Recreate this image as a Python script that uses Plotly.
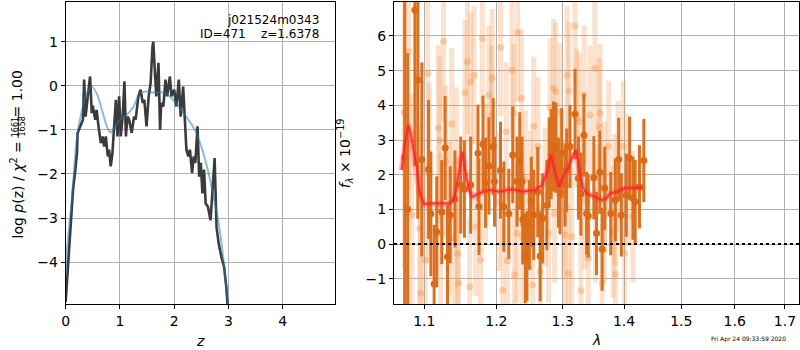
import plotly.graph_objects as go

# ---------------- data: left panel (redshift PDF) ----------------
z_grid = [0.0, 0.024, 0.055, 0.097, 0.135, 0.178, 0.208, 0.22, 0.27, 0.318, 0.34, 0.367, 0.40, 0.45, 0.48,
          0.50, 0.545, 0.57, 0.605, 0.648, 0.68, 0.71, 0.74, 0.776, 0.80, 0.83, 0.86, 0.89, 0.925, 0.955,
          0.985, 1.015, 1.05, 1.083, 1.11, 1.14, 1.17, 1.217, 1.26, 1.29, 1.34, 1.38, 1.42, 1.45, 1.49,
          1.53, 1.565, 1.60, 1.615, 1.645, 1.67, 1.71, 1.74, 1.76, 1.80, 1.84, 1.87, 1.92, 1.95, 2.0,
          2.04, 2.085, 2.12, 2.165, 2.195, 2.225, 2.26, 2.29, 2.33, 2.36, 2.39, 2.43, 2.46, 2.49, 2.52,
          2.55, 2.58, 2.62, 2.67, 2.70, 2.745, 2.78, 2.82, 2.87, 2.92, 2.96, 2.99, 3.02]
log_pz = [-4.9, -4.41, -3.73, -2.97, -2.36, -1.91, -1.52, -1.07, -0.92, -0.77, 0.14, -0.7, -0.32, 0.21, -0.62,
          -0.45, -0.77, -0.55, -0.92, -1.3, -1.15, -1.38, -1.15, -1.6, -1.45, -1.83, -1.55, -1.0, -0.32, -1.15,
          -0.24, -1.15, -0.7, 0.1, -1.15, -0.7, -0.77, -1.07, -0.7, -0.77, -0.24, -0.09, -0.39, -0.32, -0.92,
          -0.24, 0.06, 0.89, 1.0, 0.29, -0.24, 0.52, -1.0, -0.39, -0.47, 0.14, -0.24, 0.21, -0.24, -0.09,
          -0.47, 0.14, -0.7, -0.02, -0.92, -1.45, -1.6, -1.45, -1.98, -1.6, -1.75, -0.92, -2.06, -1.75, -2.44,
          -1.9, -2.67, -2.74, -3.05, -2.36, -1.64, -3.2, -3.58, -3.88, -4.11, -4.56, -4.98, -5.6]

z_smooth = [0.0, 0.025, 0.12, 0.21, 0.30, 0.39, 0.48, 0.57, 0.67, 0.76, 0.83, 0.90, 1.0, 1.125, 1.25, 1.37,
            1.49, 1.60, 1.77, 1.88, 2.01, 2.13, 2.26, 2.38, 2.50, 2.62, 2.70, 2.81, 2.88, 2.94, 2.99, 3.02]
log_pz_smooth = [-4.2, -3.7, -2.5, -1.15, -0.55, -0.17, -0.02, -0.17, -0.55, -0.92, -1.06, -0.95, -0.77, -0.66,
                 -0.47, -0.17, -0.13, -0.15, -0.15, -0.2, -0.36, -0.55, -0.77, -1.0, -1.38, -1.91, -2.36, -3.05,
                 -3.65, -4.33, -4.95, -5.5]

z_ticks = [0, 1, 2, 3, 4]
pz_ticks = [-4, -3, -2, -1, 0, 1]

# ---------------- data: right panel (1D spectrum) ----------------
wave_dark = [1.0743, 1.0782, 1.0876, 1.0915, 1.0968, 1.1057, 1.1088, 1.1132, 1.1167, 1.1235, 1.1281, 1.1313,
             1.1350, 1.1415, 1.1495, 1.1546, 1.1634, 1.1737, 1.1751, 1.1808, 1.1845, 1.1893, 1.1954, 1.1973,
             1.2060, 1.2109, 1.2182, 1.2240, 1.2304, 1.2344, 1.2378, 1.2388, 1.2427, 1.2452, 1.2487, 1.2517,
             1.2553, 1.2615, 1.2652, 1.2689, 1.2754, 1.2790, 1.2820, 1.2857, 1.2893, 1.2934, 1.2959, 1.2985,
             1.3037, 1.3063, 1.3115, 1.3195, 1.3249, 1.3289, 1.3337, 1.3381, 1.3408, 1.3498, 1.3542, 1.3596,
             1.3634, 1.3677, 1.3776, 1.3853, 1.3909, 1.3953, 1.4037, 1.4093, 1.4150, 1.4189, 1.4262, 1.4337]
flux_dark = [2.5, 1.0, 6.75, 4.73, 2.44, 2.15, 0.87, -1.15, 0.35, 0.92, 2.77, -0.37,
             0.84, 1.3, 1.7, 1.58, 1.7, 2.62, 1.08, 2.88, 1.77, 2.25, 2.81, 1.8,
             2.13, 1.08, 0.87, 2.57, 1.8, 2.4, 1.8, 0.71, -0.41, -0.35, 0.55, 1.22,
             0.84, 1.5, -0.35, 0.74, 1.12, 2.35, 2.59, 2.81, 2.78, 1.77, 1.48, 2.62,
             1.7, 2.13, 2.81, 3.75, 1.9, 1.44, 3.14, 0.88, 0.81, 1.91, 0.31, 2.07,
             -0.15, 1.61, 0.88, 1.27, 2.44, 0.84, 1.41, 2.47, 1.32, 1.22, 1.65, 2.41]
err_dark = [5.0, 4.5, 4.5, 4.0, 2.8, 2.0, 1.8, 1.7, 1.6, 1.5, 1.5, 1.5,
            1.4, 1.4, 1.4, 1.4, 1.4, 1.4, 1.4, 1.4, 1.3, 1.4, 1.4, 1.3,
            1.4, 1.3, 1.3, 1.4, 1.3, 1.4, 1.3, 1.3, 1.3, 1.3, 1.3, 1.3,
            1.3, 1.3, 1.3, 1.3, 1.3, 1.3, 1.3, 1.3, 1.3, 1.3, 1.2, 1.3,
            1.2, 1.2, 1.2, 1.3, 1.2, 1.2, 1.2, 1.2, 1.2, 1.2, 1.2, 1.2,
            1.2, 1.2, 1.2, 1.2, 1.2, 1.2, 1.2, 1.2, 1.2, 1.2, 1.2, 1.2]

wave_light = [1.0737, 1.0793, 1.0837, 1.0941, 1.0954, 1.1013, 1.1047, 1.1066, 1.1190, 1.1208, 1.1221, 1.1258,
              1.1289, 1.1335, 1.1371, 1.1404, 1.1436, 1.1450, 1.1463, 1.1555, 1.1588, 1.1620, 1.1634, 1.1681,
              1.1704, 1.1774, 1.1798, 1.1845, 1.1893, 1.1930, 1.1940, 1.2036, 1.2060, 1.2094, 1.2143, 1.2160,
              1.2230, 1.2255, 1.2263, 1.2304, 1.2312, 1.2368, 1.2388, 1.2427, 1.2502, 1.2538, 1.2553, 1.2618,
              1.2652, 1.2728, 1.2780, 1.2805, 1.2857, 1.2872, 1.2893, 1.2959, 1.3011, 1.3037, 1.3068, 1.3090,
              1.3099, 1.3142, 1.3195, 1.3222, 1.3265, 1.3289, 1.3343, 1.3353, 1.3408, 1.3434, 1.3515, 1.3525,
              1.3586, 1.3600, 1.3634, 1.3667, 1.3677, 1.3742, 1.3814, 1.3840, 1.3853, 1.3897, 1.3986, 1.4008,
              1.4065, 1.4150]
flux_light = [3.8, 5.55, 0.84, 0.45, -1.42, -0.46, 4.92, 2.04, 3.34, 3.0, 0.31, 5.84,
              2.37, 0.74, 3.46, 0.16, 2.42, -0.27, -1.13, 4.36, 5.26, -1.23, 4.68, 4.87,
              0.5, -0.46, 5.93, 2.04, 4.3, 3.72, 4.78, 1.22, 5.67, -1.33, 3.24, -0.49,
              5.02, 3.77, -0.89, 0.31, 6.1, 4.2, 0.21, 1.85, 1.27, -1.18, 3.4, 2.81,
              -0.8, 1.36, 0.31, 3.94, 4.49, 0.88, 4.39, 3.79, 0.98, 0.26, 4.87, -0.85,
              4.42, 0.21, 6.29, 3.63, 3.53, -1.35, 4.3, 1.27, -0.41, 3.72, 5.07, 0.88,
              3.38, 3.77, -1.13, 0.79, 1.65, 2.81, 0.36, 1.27, -0.87, 2.23, 2.81, -0.27,
              1.85, 0.79]
err_light = [4.5, 4.0, 3.5, 3.0, 3.0, 2.8, 2.8, 2.6, 2.4, 2.4, 2.3, 2.3,
             2.2, 2.2, 2.2, 2.2, 2.1, 2.1, 2.1, 2.1, 2.1, 2.0, 2.0, 2.0,
             2.0, 2.0, 2.0, 2.0, 2.0, 2.0, 2.0, 2.0, 2.0, 2.0, 2.0, 2.0,
             2.0, 2.0, 2.0, 2.0, 2.0, 2.0, 2.0, 2.0, 2.0, 2.0, 2.0, 2.0,
             2.0, 2.0, 2.0, 2.0, 2.0, 2.0, 2.0, 2.0, 2.0, 2.0, 2.0, 2.0,
             2.0, 2.0, 2.0, 2.0, 2.0, 2.0, 2.0, 2.0, 2.0, 2.0, 2.0, 2.0,
             2.0, 2.0, 1.9, 1.9, 1.9, 1.9, 1.9, 1.9, 1.9, 1.9, 1.9, 1.9,
             1.9, 1.9]

wave_model = [1.0703, 1.0746, 1.0790, 1.0821, 1.0898, 1.0941, 1.0999, 1.1110, 1.1331, 1.1399, 1.1436, 1.1491,
              1.1518, 1.1550, 1.1610, 1.1657, 1.1751, 1.1893, 1.2036, 1.2230, 1.2378, 1.2577, 1.2678, 1.2754,
              1.2820, 1.2872, 1.2943, 1.3011, 1.3090, 1.3153, 1.3211, 1.3259, 1.3313, 1.3381, 1.3515, 1.3634,
              1.3704, 1.3759, 1.3897, 1.4008, 1.4175, 1.4316]
flux_model = [2.13, 2.9, 3.43, 3.19, 2.23, 1.46, 1.15, 1.17, 1.17, 1.27, 1.65, 2.42,
              2.66, 2.23, 1.56, 1.36, 1.46, 1.56, 1.51, 1.58, 1.51, 1.56, 1.7, 2.04,
              2.57, 2.13, 1.65, 1.94, 2.23, 2.52, 2.71, 2.23, 1.65, 1.46, 1.36, 1.27,
              1.32, 1.46, 1.51, 1.61, 1.63, 1.61]

wave_ticks = [1.1, 1.2, 1.3, 1.4, 1.5, 1.6, 1.7]
wave_tick_text = ["1.1", "1.2", "1.3", "1.4", "1.5", "1.6", "1.7"]
flux_ticks = [-1, 0, 1, 2, 3, 4, 5, 6]

# ---------------- figure ----------------
W, H = 800, 350
FONT = "DejaVu Sans"
GRID = "#b0b0b0"


def px(x):
    return x / W


def py(y):
    return 1 - y / H


fig = go.Figure()

fig.add_trace(go.Scatter(x=z_grid, y=log_pz, mode="lines", xaxis="x", yaxis="y",
                         line=dict(color="#3b3b3b", width=2.6), showlegend=False))
fig.add_trace(go.Scatter(x=z_smooth, y=log_pz_smooth, mode="lines", xaxis="x", yaxis="y",
                         line=dict(color="rgba(31,119,180,0.5)", width=2, shape="spline"),
                         showlegend=False))

fig.add_trace(go.Scatter(x=wave_light, y=flux_light, mode="markers", xaxis="x2", yaxis="y2",
                         marker=dict(color="rgba(240,140,60,0.35)", size=7),
                         error_y=dict(type="data", array=err_light, width=0, thickness=5,
                                      color="rgba(240,150,80,0.28)"),
                         showlegend=False))
fig.add_trace(go.Scatter(x=wave_dark, y=flux_dark, mode="markers", xaxis="x2", yaxis="y2",
                         marker=dict(color="rgb(218,106,22)", size=7),
                         error_y=dict(type="data", array=err_dark, width=0, thickness=3,
                                      color="rgb(218,112,32)"),
                         showlegend=False))
fig.add_trace(go.Scatter(x=wave_model, y=flux_model, mode="lines", xaxis="x2", yaxis="y2",
                         line=dict(color="rgba(255,60,60,0.35)", width=6), showlegend=False))
fig.add_trace(go.Scatter(x=wave_model, y=flux_model, mode="lines", xaxis="x2", yaxis="y2",
                         line=dict(color="rgba(255,30,30,0.75)", width=2.2), showlegend=False))

axis_common = dict(showline=True, linecolor="black", linewidth=1, mirror=True,
                   ticks="outside", ticklen=4, tickwidth=1, tickcolor="black",
                   showgrid=True, gridcolor=GRID, gridwidth=1, zeroline=False,
                   tickfont=dict(family=FONT, size=14, color="black"))

fig.update_layout(
    width=W, height=H,
    margin=dict(l=0, r=0, t=0, b=0),
    paper_bgcolor="white", plot_bgcolor="white",
    font=dict(family=FONT, size=14, color="black"),
    xaxis=dict(domain=[px(62), px(333)], range=[0, 4.97], tickvals=z_ticks, anchor="y", **axis_common),
    yaxis=dict(domain=[py(304), py(2)], range=[-4.95, 1.9], tickvals=pz_ticks, anchor="x", **axis_common),
    xaxis2=dict(domain=[px(392), px(799)], type="log", range=[0.02556, 0.2378],
                tickvals=wave_ticks, ticktext=wave_tick_text, anchor="y2", **axis_common),
    yaxis2=dict(domain=[py(304), py(2)], range=[-1.73, 6.98], tickvals=flux_ticks, anchor="x2",
                **axis_common),
)

# zero line on spectrum
fig.add_shape(type="line", xref="x2 domain", yref="y2", x0=0, x1=1, y0=0, y1=0,
              line=dict(color="black", width=2, dash="dot"), layer="above")

ann = []
# top-right labels in the p(z) panel
ann.append(dict(x=px(319), y=py(20), xref="paper", yref="paper", xanchor="right", yanchor="middle",
                text="j021524m0343", showarrow=False, font=dict(family=FONT, size=12)))
ann.append(dict(x=px(319), y=py(34), xref="paper", yref="paper", xanchor="right", yanchor="middle",
                text="ID=471    z=1.6378", showarrow=False, font=dict(family=FONT, size=12)))
# x-axis titles
ann.append(dict(x=px(197), y=py(341), xref="paper", yref="paper", xanchor="center", yanchor="middle",
                text="<i>z</i>", showarrow=False, font=dict(family=FONT, size=14)))
ann.append(dict(x=px(595), y=py(340), xref="paper", yref="paper", xanchor="center", yanchor="middle",
                text="<i>λ</i>", showarrow=False, font=dict(family=FONT, size=14)))
# left y-axis title built from pieces
ann.append(dict(x=px(13), y=py(240), xref="paper", yref="paper", xanchor="center", yanchor="bottom",
                text="log <i>p</i>(z) / <i>χ</i><sup>2</sup> =", textangle=-90, showarrow=False,
                font=dict(family=FONT, size=14)))
ann.append(dict(x=px(11.3), y=py(127), xref="paper", yref="paper", xanchor="center", yanchor="middle",
                text="1661", textangle=-90, showarrow=False, font=dict(family=FONT, size=8)))
ann.append(dict(x=px(17.6), y=py(127), xref="paper", yref="paper", xanchor="center", yanchor="middle",
                text="1658", textangle=-90, showarrow=False, font=dict(family=FONT, size=8)))
ann.append(dict(x=px(13), y=py(68), xref="paper", yref="paper", xanchor="center", yanchor="top",
                text="= 1.00", textangle=-90, showarrow=False, font=dict(family=FONT, size=14)))
# right y-axis title
ann.append(dict(x=px(343), y=py(153), xref="paper", yref="paper", xanchor="center", yanchor="middle",
                text="<i>f</i><sub><i>λ</i></sub> × 10<sup>−19</sup>", textangle=-90, showarrow=False,
                font=dict(family=FONT, size=14)))
# timestamp
ann.append(dict(x=px(788), y=py(339), xref="paper", yref="paper", xanchor="right", yanchor="middle",
                text="Fri Apr 24 09:33:59 2020", showarrow=False, font=dict(family=FONT, size=6)))
fig.update_layout(annotations=ann)

# fraction bar
fig.add_shape(type="line", xref="paper", yref="paper", x0=px(14.4), x1=px(14.4), y0=py(116), y1=py(138),
              line=dict(color="black", width=0.8))

fig.write_html("out.html", config={"displayModeBar": False},
               post_script="document.body.style.margin='0px';document.body.style.overflow='hidden';")
